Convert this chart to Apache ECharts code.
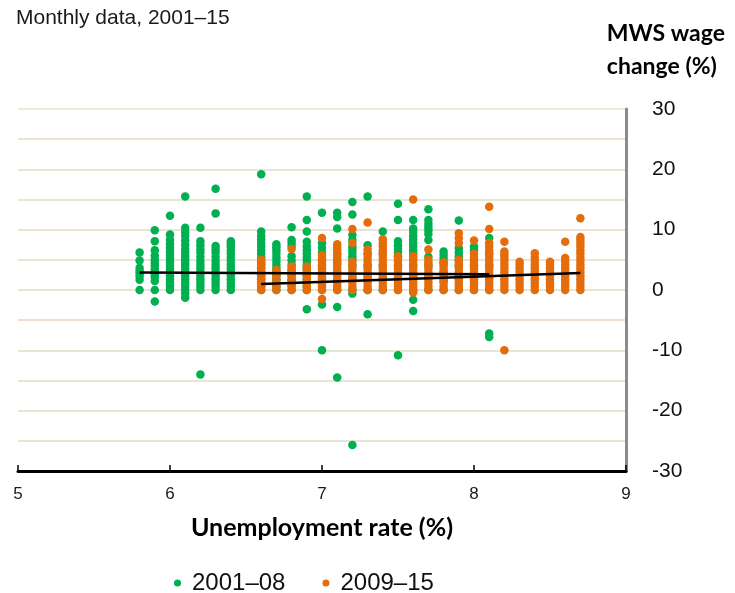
<!DOCTYPE html>
<html>
<head>
<meta charset="utf-8">
<script src="https://cdn.jsdelivr.net/npm/echarts@6/dist/echarts.min.js"></script>
<style>
  html, body { margin: 0; padding: 0; background: #fff; }
  #chart { width: 735px; height: 593px; }
</style>
</head>
<body>
<div id="chart"></div>
<script>
// Unemployment rate (%) observed in each month, and the wage changes (%) recorded at that rate
const rates2001 = [5.8, 5.9, 6.0, 6.1, 6.2, 6.3, 6.4, 6.6, 6.7, 6.8, 6.9, 7.0, 7.1, 7.2, 7.3, 7.4, 7.5, 7.6, 7.7, 7.8, 7.9, 8.0, 8.1];
const changes2001 = [
  [0.0, 1.7, 2.3, 2.8, 3.2, 3.7, 4.9, 6.2],
  [-1.9, 0.0, 1.5, 2.1, 2.6, 3.0, 3.5, 4.0, 4.5, 5.0, 5.7, 6.6, 8.1, 9.9],
  [0.0, 0.6, 1.2, 1.8, 2.4, 3.0, 3.5, 4.0, 4.6, 5.2, 5.8, 6.4, 7.0, 7.6, 8.3, 9.2, 12.3],
  [-1.3, -0.6, 0.0, 0.6, 1.2, 1.8, 2.4, 3.0, 3.5, 4.0, 4.5, 5.0, 5.6, 6.2, 6.8, 7.5, 8.2, 9.0, 9.6, 10.3, 15.5],
  [-14.0, 0.0, 0.6, 1.2, 1.8, 2.4, 3.0, 3.6, 4.2, 4.8, 5.5, 6.2, 6.8, 7.4, 8.1, 10.3],
  [0.0, 0.6, 1.2, 1.8, 2.4, 3.0, 3.6, 4.2, 4.8, 5.5, 6.2, 6.8, 7.3, 12.7, 16.8],
  [0.0, 0.6, 1.2, 1.8, 2.4, 3.0, 3.6, 4.2, 4.8, 5.4, 6.0, 6.6, 7.2, 7.7, 8.1],
  [0.0, 0.6, 1.2, 1.8, 2.4, 3.0, 3.6, 4.2, 4.8, 5.4, 6.0, 6.6, 7.2, 7.8, 8.4, 9.0, 9.7, 19.2],
  [0.0, 0.6, 1.2, 1.8, 2.4, 3.0, 3.6, 4.2, 4.8, 5.4, 6.0, 6.6, 7.1, 7.6],
  [0.0, 0.8, 1.6, 2.4, 3.2, 4.2, 4.9, 5.6, 7.2, 7.8, 8.3, 10.4],
  [-3.2, 0.0, 0.6, 1.2, 1.8, 2.4, 3.0, 3.6, 4.2, 4.8, 5.4, 6.0, 6.6, 7.2, 8.0, 9.7, 11.6, 15.5],
  [-10.0, -2.4, 0.0, 1.0, 2.0, 3.0, 4.0, 5.0, 6.2, 7.0, 7.8, 12.8],
  [-14.5, -2.8, 0.0, 1.5, 3.0, 4.5, 6.0, 10.2, 12.1, 12.8],
  [-25.7, -0.6, 0.0, 2.0, 4.0, 5.0, 5.6, 6.2, 6.8, 7.2, 8.3, 9.1, 12.5, 14.6],
  [-4.0, 0.0, 2.0, 4.0, 6.0, 7.4, 15.5],
  [0.0, 2.0, 4.0, 6.0, 9.7],
  [-10.8, 0.0, 2.0, 4.0, 5.6, 6.2, 6.8, 7.4, 8.1, 11.6, 14.3],
  [-3.5, -1.6, 0.0, 2.0, 4.0, 6.0, 6.6, 7.2, 7.8, 8.4, 9.0, 9.6, 10.2, 11.6],
  [0.0, 2.0, 4.0, 5.5, 8.3, 9.3, 9.9, 10.4, 11.0, 11.6, 13.4],
  [0.0, 1.5, 3.0, 4.5, 5.2, 5.8, 6.4],
  [0.0, 2.0, 4.0, 5.0, 5.6, 6.2, 6.9, 11.5],
  [0.0, 2.0, 4.0, 6.6, 7.2],
  [-7.8, -7.2, 0.0, 2.0, 4.0, 6.0, 8.6]
];

const rates2009 = [6.6, 6.7, 6.8, 6.9, 7.0, 7.1, 7.2, 7.3, 7.4, 7.5, 7.6, 7.7, 7.8, 7.9, 8.0, 8.1, 8.2, 8.3, 8.4, 8.5, 8.6, 8.7];
const changes2009 = [
  [0.0, 0.6, 1.2, 1.8, 2.4, 3.0, 3.6, 4.2, 4.6, 5.0],
  [0.0, 0.6, 1.2, 1.8, 2.4, 2.9, 3.3],
  [0.0, 0.6, 1.2, 1.8, 2.4, 3.0, 3.5, 3.9, 6.8],
  [0.0, 0.6, 1.2, 1.8, 2.4, 3.0, 3.5, 3.9],
  [-1.5, 0.0, 0.6, 1.2, 1.8, 2.4, 3.0, 3.6, 4.2, 4.8, 5.3, 5.8, 8.6],
  [0.0, 0.6, 1.2, 1.8, 2.4, 3.0, 3.6, 4.2, 4.8, 5.4, 6.0, 6.6, 7.1, 7.6],
  [0.0, 0.6, 1.2, 1.8, 2.4, 3.0, 3.6, 4.2, 4.7, 7.8, 10.1],
  [0.0, 0.6, 1.2, 1.8, 2.4, 3.0, 3.6, 4.2, 4.8, 5.4, 6.0, 6.7, 11.2],
  [0.0, 0.6, 1.2, 1.8, 2.4, 3.0, 3.6, 4.2, 4.8, 5.4, 6.0, 6.6, 7.2, 7.8, 8.4],
  [0.0, 0.6, 1.2, 1.8, 2.4, 3.0, 3.6, 4.2, 4.8, 5.2, 5.6],
  [-0.4, 0.0, 0.6, 1.2, 1.8, 2.4, 3.0, 3.6, 4.2, 4.8, 5.2, 5.6, 15.0],
  [0.0, 0.6, 1.2, 1.8, 2.4, 3.0, 3.6, 4.2, 4.6, 5.0, 6.7],
  [0.0, 0.6, 1.2, 1.8, 2.4, 3.0, 3.6, 4.1, 4.6],
  [0.0, 0.6, 1.2, 1.8, 2.4, 3.0, 3.6, 4.1, 4.6, 5.0, 7.8, 8.6, 9.4],
  [0.0, 0.6, 1.2, 1.8, 2.4, 3.0, 3.6, 4.2, 4.8, 5.4, 6.0, 8.2],
  [0.0, 0.6, 1.2, 1.8, 2.4, 3.0, 3.6, 4.2, 4.8, 5.4, 6.0, 6.6, 7.2, 7.8, 10.1, 13.8],
  [-10.0, 0.0, 0.6, 1.2, 1.8, 2.4, 3.0, 3.6, 4.2, 4.8, 5.4, 5.9, 6.4, 8.0],
  [0.0, 0.6, 1.2, 1.8, 2.4, 3.0, 3.6, 4.2, 4.7],
  [0.0, 0.6, 1.2, 1.8, 2.4, 3.0, 3.6, 4.2, 4.8, 5.4, 6.1],
  [0.0, 0.6, 1.2, 1.8, 2.4, 3.0, 3.6, 4.2, 4.7],
  [0.0, 0.6, 1.2, 1.8, 2.4, 3.0, 3.6, 4.2, 4.8, 5.3, 8.0],
  [0.0, 0.6, 1.2, 1.8, 2.4, 3.0, 3.6, 4.2, 4.8, 5.4, 6.0, 6.6, 7.2, 7.8, 8.3, 8.8, 11.9]
];

// Fitted trend lines: endpoints [unemployment rate, wage change]
const trend2001 = [[5.8, 2.9], [8.1, 2.6]];
const trend2009 = [[6.6, 1.0], [8.7, 2.8]];

const seriesNames = ['2001–08', '2009–15'];
const xTicks = { min: 5, max: 9, interval: 1 };
const yTicks = { min: -30, max: 30, interval: 10 };

function toPoints(rates, changes) {
  const pts = [];
  rates.forEach((r, i) => changes[i].forEach(v => pts.push([r, v])));
  return pts;
}

const GREEN = '#00b050';
const ORANGE = '#e46c0a';
const SANS = '"Liberation Sans", Arial, sans-serif';
const BOLD = 'Lato, "Open Sans", sans-serif';
const G = '#e6e6d2', PINK = '#f1dcd4', TAN = '#eee2d0';

const chart = echarts.init(document.getElementById('chart'), null, { renderer: 'canvas' });

chart.setOption({
  animation: false,
  backgroundColor: '#ffffff',
  grid: { left: 18, right: 109, top: 109, bottom: 122, containLabel: false },
  graphic: [
    { type: 'text', left: 16, top: 8,
      style: { text: 'Monthly data, 2001–15', font: '21px ' + SANS, fill: '#1a1a1a' } },
    { type: 'text', right: 10, top: 17,
      style: { text: 'MWS wage\nchange (%)', font: 'bold 23px ' + BOLD, fill: '#000',
               align: 'right', lineHeight: 33 } }
  ],
  legend: {
    data: seriesNames,
    left: 169, top: 566,
    icon: 'circle', itemWidth: 19, itemHeight: 7, itemGap: 37,
    textStyle: { fontSize: 24, fontFamily: SANS, color: '#111' }
  },
  xAxis: {
    type: 'value', min: xTicks.min, max: xTicks.max, interval: xTicks.interval,
    name: 'Unemployment rate (%)', nameLocation: 'middle', nameGap: 44,
    nameTextStyle: { fontSize: 25, fontWeight: 'bold', fontFamily: BOLD, color: '#000' },
    axisLine: { show: true, onZero: false, lineStyle: { color: '#000', width: 3 } },
    axisTick: { show: true, inside: true, length: 6, lineStyle: { color: '#000', width: 1.5 } },
    axisLabel: { fontSize: 17, fontFamily: SANS, color: '#1a1a1a', margin: 15 },
    splitLine: { show: false }
  },
  yAxis: {
    type: 'value', position: 'right', min: yTicks.min, max: yTicks.max, interval: 5,
    axisLine: { show: true, onZero: false, lineStyle: { color: '#8a8a8a', width: 3 } },
    axisTick: { show: false },
    axisLabel: {
      fontSize: 21, fontFamily: SANS, color: '#111', align: 'left', margin: 26,
      formatter: v => (v % yTicks.interval === 0 ? String(v) : '')
    },
    splitLine: {
      show: true,
      lineStyle: {
        width: 2,
        color: [G, G, G, G, G, PINK, G, G, TAN, G, G, TAN, '#e9ecda']
      }
    }
  },
  series: [
    { name: seriesNames[0], type: 'scatter', symbol: 'circle', symbolSize: 8.5, z: 2,
      itemStyle: { color: GREEN, opacity: 1 }, data: toPoints(rates2001, changes2001) },
    { name: seriesNames[1], type: 'scatter', symbol: 'circle', symbolSize: 8.5, z: 3,
      itemStyle: { color: ORANGE, opacity: 1 }, data: toPoints(rates2009, changes2009) },
    { type: 'line', data: trend2001, symbol: 'none', z: 5, silent: true,
      lineStyle: { color: '#000', width: 2.5 } },
    { type: 'line', data: trend2009, symbol: 'none', z: 5, silent: true,
      lineStyle: { color: '#000', width: 2.5 } }
  ]
});
</script>
</body>
</html>
